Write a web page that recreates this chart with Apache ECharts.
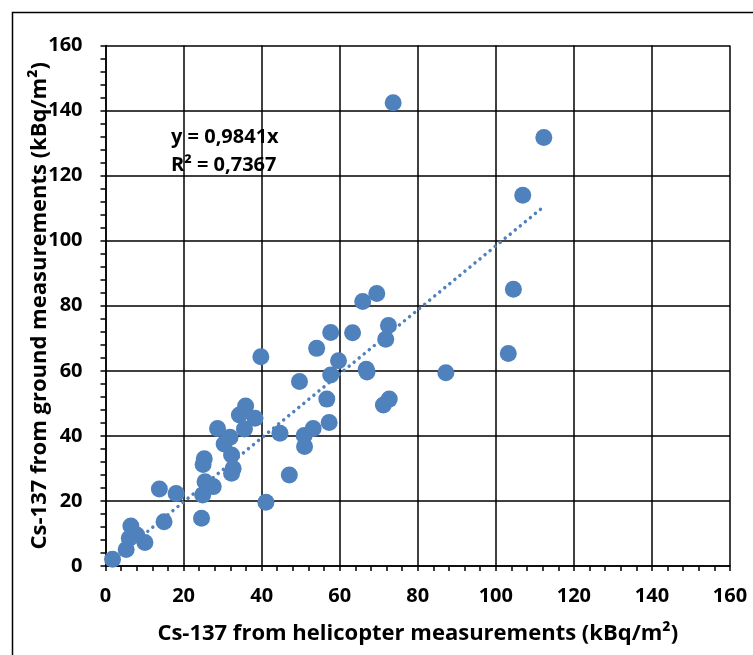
<!DOCTYPE html>
<html>
<head>
<meta charset="utf-8">
<script src="https://cdn.jsdelivr.net/npm/echarts@6/dist/echarts.min.js"></script>
<style>
html,body{margin:0;padding:0;background:#fff;}
#chart{width:753px;height:655px;}
</style>
</head>
<body>
<div id="chart"></div>
<script>
// Helicopter (x) vs ground (y) Cs-137, kBq/m2
const heliX = [1.8, 5.3, 6.5, 6.1, 8.0, 10.1, 15.0, 13.8, 18.1, 24.6, 24.9, 25.5, 27.6, 25.0, 25.3,
  28.7, 30.4, 31.9, 32.3, 32.7, 32.3, 34.3, 35.9, 35.6, 38.3, 39.8, 41.1, 44.7, 47.1, 49.7,
  50.9, 51.0, 53.2, 54.1, 56.7, 57.3, 57.7, 57.7, 59.7, 63.3, 65.9, 69.5, 72.5, 71.8, 66.8,
  67.0, 71.2, 72.7, 73.7, 87.2, 103.2, 104.5, 106.9, 112.3];
const groundY = [2.1, 5.1, 12.3, 8.5, 9.5, 7.2, 13.6, 23.7, 22.3, 14.7, 21.8, 25.9, 24.4, 31.2, 33.0,
  42.3, 37.5, 39.6, 34.1, 30.0, 28.5, 46.4, 49.2, 42.1, 45.4, 64.3, 19.6, 40.8, 28.0, 56.7,
  40.1, 36.7, 42.3, 66.9, 51.3, 44.1, 58.7, 71.8, 63.1, 71.7, 81.3, 83.8, 73.9, 69.7, 60.5,
  59.6, 49.5, 51.3, 142.4, 59.4, 65.3, 85.1, 114.0, 131.7];
// Linear trendline through origin (y = 0,9841x), endpoints over the data range
const trendX = [1.8, 112.3];
const trendY = [1.8, 110.5];
const equationLines = ['y = 0,9841x', 'R² = 0,7367'];
const xTitle = 'Cs-137 from helicopter measurements (kBq/m²)';
const yTitle = 'Cs-137 from ground measurements (kBq/m²)';

const points = heliX.map((x, i) => [x, groundY[i]]);
const trend = trendX.map((x, i) => [x, trendY[i]]);
const blue = '#4F81BD';
const font = '"Open Sans"';

const axisCommon = {
  type: 'value', min: 0, max: 160, interval: 20,
  axisLine: { show: true, lineStyle: { color: '#000', width: 1.5 } },
  axisTick: { show: true, inside: false, length: 5, lineStyle: { color: '#000', width: 1.5 } },
  minorTick: { show: true, splitNumber: 5, length: 5, lineStyle: { color: '#000', width: 1.5 } },
  splitLine: { show: true, lineStyle: { color: '#000', width: 1.5 } },
  axisLabel: { color: '#000', fontFamily: font, fontWeight: 'bold', fontSize: 20 },
  nameLocation: 'middle',
  nameMoveOverlap: false
};

const chart = echarts.init(document.getElementById('chart'));
chart.setOption({
  animation: false,
  backgroundColor: '#fff',
  grid: { left: 105.5, right: 23, top: 45.5, bottom: 89, containLabel: false },
  xAxis: Object.assign({}, axisCommon, {
    name: xTitle, nameGap: 57,
    axisLabel: Object.assign({}, axisCommon.axisLabel, { margin: 20 }),
    nameTextStyle: { color: '#000', fontFamily: font, fontWeight: 'bold', fontSize: 22 }
  }),
  yAxis: Object.assign({}, axisCommon, {
    name: yTitle, nameGap: 51,
    axisLabel: Object.assign({}, axisCommon.axisLabel, { margin: 23 }),
    nameTextStyle: { color: '#000', fontFamily: font, fontWeight: 'bold', fontSize: 22,
      backgroundColor: '#fff', padding: [0, 0, 4, 0] }
  }),
  graphic: [
    { type: 'rect', left: 10, top: 10, shape: { width: 800, height: 700 },
      style: { fill: 'none', stroke: '#000', lineWidth: 1.5 }, z: -10 },
    { type: 'text', left: 171, top: 123,
      style: { text: equationLines.join('\n'), font: 'bold 20px "Open Sans"', fill: '#000', lineHeight: 28 } }
  ],
  series: [
    { type: 'line', data: trend, symbol: 'none', z: 1,
      lineStyle: { color: blue, width: 3.5, type: [0.01, 6.5], cap: 'round' } },
    { type: 'scatter', data: points, symbolSize: 17, z: 2,
      itemStyle: { color: blue, opacity: 1 } }
  ]
});
</script>
</body>
</html>
